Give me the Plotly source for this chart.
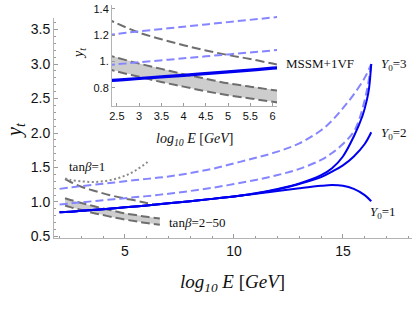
import plotly.graph_objects as go

# ---------------- data ----------------
# shared solid MSSM+1VF part (all Y0 curves coincide here)
base_E = [2.0, 2.5, 3, 4, 5, 6, 7, 8, 9, 10]
base_y = [0.85, 0.86, 0.872, 0.896, 0.922, 0.95, 0.98, 1.01, 1.045, 1.08]

y01_E = [10.5, 11, 12, 13, 14, 14.5, 15, 15.5, 16, 16.3]
y01_y = [1.10, 1.12, 1.16, 1.20, 1.235, 1.245, 1.235, 1.19, 1.10, 1.01]
y02_E = [10.5, 11, 12, 13, 14, 14.5, 15, 15.5, 16, 16.3]
y02_y = [1.10, 1.125, 1.18, 1.26, 1.36, 1.44, 1.53, 1.66, 1.84, 2.01]
y03_E = [10.5, 11, 12, 13, 14, 14.5, 15, 15.5, 15.9, 16.1, 16.2, 16.3]
y03_y = [1.10, 1.128, 1.19, 1.27, 1.39, 1.49, 1.66, 1.95, 2.25, 2.48, 2.65, 3.0]

dashU_E = [2, 2.5, 3, 4, 5, 6, 7, 8, 9, 10, 11, 12, 13, 14, 14.5, 15, 15.5, 16, 16.3]
dashU_y = [1.19, 1.21, 1.23, 1.265, 1.30, 1.335, 1.37, 1.42, 1.48, 1.56, 1.64, 1.73, 1.85, 2.04, 2.18, 2.36, 2.56, 2.80, 3.0]
dashL_E = [2, 2.5, 3, 4, 5, 6, 7, 8, 9, 10, 11, 12, 13, 14, 14.5, 15, 15.5, 15.75, 16, 16.15, 16.3]
dashL_y = [0.965, 0.98, 0.995, 1.025, 1.055, 1.085, 1.12, 1.16, 1.205, 1.26, 1.32, 1.39, 1.48, 1.61, 1.71, 1.84, 2.02, 2.20, 2.48, 2.70, 3.0]

tb1_dot_E = [2.25, 2.5, 3, 3.5, 4, 4.5, 5, 5.5, 6.0, 6.1]
tb1_dot_y = [1.34, 1.32, 1.30, 1.29, 1.30, 1.33, 1.38, 1.46, 1.57, 1.60]
tb1_dash_E = [2.25, 2.5, 3, 3.5, 4, 4.5, 5, 5.5, 6, 6.3]
tb1_dash_y = [1.33, 1.29, 1.22, 1.17, 1.125, 1.085, 1.05, 1.02, 0.985, 0.965]

band_E = [2.25, 2.5, 3, 3.5, 4, 4.5, 5, 5.5, 6, 6.6]
band_hi = [1.055, 1.03, 0.985, 0.945, 0.905, 0.87, 0.835, 0.81, 0.785, 0.76]
band_lo = [0.95, 0.925, 0.885, 0.845, 0.81, 0.775, 0.745, 0.72, 0.695, 0.67]

main_yticks = [0.5, 1.0, 1.5, 2.0, 2.5, 3.0, 3.5]
main_xticks = [5, 10, 15]
inset_xticks = [2.5, 3, 3.5, 4, 4.5, 5, 5.5, 6]
inset_yticks = [0.8, 1.0, 1.2, 1.4]
inset_yticktext = ["0.8", "1.", "1.2", "1.4"]

# ---------------- style ----------------
BLUE = "#0000ee"
LBLUE = "#8585ff"
GRAY = "#6e6e6e"
DGRAY = "#8a8a8a"
FILL = "#cdcdcd"
SERIF = "Liberation Serif"
SANS = "Liberation Sans"

fig = go.Figure()


def add_set(xa, ya, inset=False):
    sfx = dict(xaxis=xa, yaxis=ya)
    fig.add_trace(go.Scatter(x=band_E + band_E[::-1], y=band_hi + band_lo[::-1],
                             fill="toself", fillcolor=FILL, line=dict(width=0),
                             mode="lines", hoverinfo="skip", **sfx))
    for yy in (band_hi, band_lo):
        fig.add_trace(go.Scatter(x=band_E, y=yy, mode="lines", line_shape="spline",
                                 line=dict(color=GRAY, width=2, dash="9px,4px"), **sfx))
    fig.add_trace(go.Scatter(x=tb1_dash_E, y=tb1_dash_y, mode="lines", line_shape="spline",
                             line=dict(color=GRAY, width=2, dash="9px,4px"), **sfx))
    if not inset:
        fig.add_trace(go.Scatter(x=tb1_dot_E, y=tb1_dot_y, mode="lines", line_shape="spline",
                                 line=dict(color=DGRAY, width=2, dash="2px,2.5px"), **sfx))
    for ex, yy in ((dashU_E, dashU_y), (dashL_E, dashL_y)):
        fig.add_trace(go.Scatter(x=ex, y=yy, mode="lines", line_shape="spline",
                                 line=dict(color=LBLUE, width=2, dash="8px,4px"), **sfx))
    if inset:
        fig.add_trace(go.Scatter(x=base_E, y=base_y, mode="lines", line_shape="spline",
                                 line=dict(color=BLUE, width=3.2), **sfx))
    else:
        for ex, yy in ((y01_E, y01_y), (y02_E, y02_y), (y03_E, y03_y)):
            fig.add_trace(go.Scatter(x=base_E + ex, y=base_y + yy, mode="lines",
                                     line_shape="spline",
                                     line=dict(color=BLUE, width=2), **sfx))


add_set("x", "y", inset=False)
add_set("x2", "y2", inset=True)

axcommon = dict(showgrid=False, zeroline=False, showline=True, linecolor="#b3b3b3",
                linewidth=1, ticks="inside", tickcolor="#9a9a9a", mirror=False,
                automargin=False)

fig.update_layout(
    template="none",
    width=415, height=312,
    margin=dict(l=0, r=0, t=0, b=0, pad=0),
    paper_bgcolor="white", plot_bgcolor="rgba(0,0,0,0)",
    showlegend=False,
    xaxis=dict(domain=[54 / 415, 412 / 415], range=[1.743, 18.17], anchor="y",
               tickvals=main_xticks, ticklen=4,
               minor=dict(dtick=1, tick0=0, ticks="inside", ticklen=2, tickcolor="#9a9a9a"),
               tickfont=dict(family=SANS, size=14, color="#111"), **axcommon),
    yaxis=dict(domain=[74 / 312, 294 / 312], range=[0.478, 3.667], anchor="x",
               tickvals=main_yticks, ticktext=[f"{v:.1f}" for v in main_yticks], ticklen=4,
               minor=dict(dtick=0.1, tick0=0, ticks="inside", ticklen=2, tickcolor="#9a9a9a"),
               tickfont=dict(family=SANS, size=14, color="#111"), **axcommon),
    xaxis2=dict(domain=[112 / 415, 277 / 415], range=[2.39, 6.1], anchor="y2",
                tickvals=inset_xticks, ticktext=[("%g" % v) for v in inset_xticks], ticklen=3,
                tickfont=dict(family=SANS, size=11, color="#111"), **axcommon),
    yaxis2=dict(domain=[206 / 312, 307 / 312], range=[0.663, 1.43], anchor="x2",
                tickvals=inset_yticks, ticktext=inset_yticktext, ticklen=3,
                tickfont=dict(family=SANS, size=11, color="#111"), **axcommon),
)

ann = []
pc = dict(xref="paper", yref="paper", showarrow=False, xanchor="center", yanchor="middle")
ann.append(dict(text="<i>log</i><sub><i>10</i></sub><i> E </i>[<i>GeV</i>]", x=232 / 415, y=(312 - 283) / 312,
                font=dict(family=SERIF, size=19, color="#111"), **pc))
ann.append(dict(text="<i>y</i><sub><i>t</i></sub>", x=15 / 415, y=(312 - 130) / 312, textangle=-90,
                font=dict(family=SERIF, size=20, color="#111"), **pc))
ann.append(dict(text="<i>log</i><sub><i>10</i></sub><i> E </i>[<i>GeV</i>]", x=194 / 415, y=(312 - 139) / 312,
                font=dict(family=SERIF, size=14, color="#111"), **pc))
ann.append(dict(text="<i>y</i><sub><i>t</i></sub>", x=79 / 415, y=(312 - 54) / 312, textangle=-90,
                font=dict(family=SERIF, size=14, color="#111"), **pc))
lab = dict(xref="x", yref="y", showarrow=False, xanchor="left", yanchor="middle",
           font=dict(family=SERIF, size=13, color="#111"))
ann.append(dict(text="tan<i>β</i>=1", x=2.35, y=1.51, **lab))
ann.append(dict(text="tan<i>β</i>=2−50", x=6.95, y=0.70, **lab))
ann.append(dict(text="MSSM+1VF", x=12.3, y=3.01, **lab))
ann.append(dict(text="<i>Y</i><sub>0</sub>=3", x=16.65, y=3.0, **lab))
ann.append(dict(text="<i>Y</i><sub>0</sub>=2", x=16.65, y=2.0, **lab))
ann.append(dict(text="<i>Y</i><sub>0</sub>=1", x=16.15, y=0.85, **lab))
fig.update_layout(annotations=ann)

fig.write_html("out.html", config={"displayModeBar": False, "staticPlot": True},
               post_script="document.body.style.margin='0';document.body.style.overflow='hidden';")
